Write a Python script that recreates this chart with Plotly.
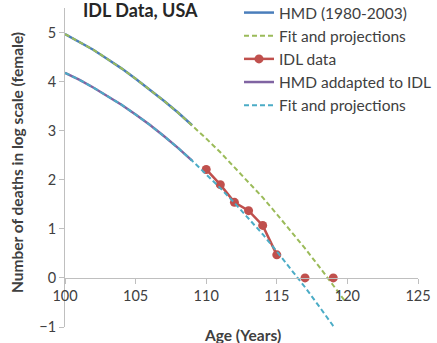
import plotly.graph_objects as go

# Ages and log-scale death counts
hmd_age = [100, 101, 102, 103, 104, 105, 106, 107, 108, 109]
hmd_val = [4.97, 4.81, 4.65, 4.46, 4.27, 4.06, 3.84, 3.61, 3.37, 3.11]

fit1_age = [100, 101, 102, 103, 104, 105, 106, 107, 108, 109, 110,
            111, 112, 113, 114, 115, 116, 117, 118, 119, 119.8]
fit1_val = [4.97, 4.81, 4.65, 4.46, 4.27, 4.06, 3.84, 3.61, 3.37, 3.11, 2.84,
            2.56, 2.26, 1.95, 1.64, 1.30, 0.96, 0.60, 0.23, -0.15, -0.46]

idl_age = [110, 111, 112, 113, 114, 115, 116, 117, 118, 119]
idl_val = [2.21, 1.90, 1.54, 1.37, 1.07, 0.47, None, 0.0, None, 0.0]

adj_age = [100, 101, 102, 103, 104, 105, 106, 107, 108, 109]
adj_val = [4.18, 4.04, 3.88, 3.71, 3.53, 3.33, 3.12, 2.89, 2.65, 2.39]

fit2_age = [100, 101, 102, 103, 104, 105, 106, 107, 108, 109, 110,
            111, 112, 113, 114, 115, 116, 117, 118, 119, 119.25]
fit2_val = [4.18, 4.04, 3.88, 3.71, 3.53, 3.33, 3.12, 2.89, 2.65, 2.39, 2.12,
            1.83, 1.53, 1.21, 0.89, 0.54, 0.18, -0.19, -0.58, -0.98, -1.03]

x_ticks = [100, 105, 110, 115, 120, 125]
y_ticks = [-1, 0, 1, 2, 3, 4, 5]

FONT = "Lato"
TXT = "#404040"
AX = "#bfbfbf"

# plot area in pixels: left 65, right 418, top 8, bottom 327
L, T, W, H = 65, 8, 353, 319


def px(x, y):
    return (x - L) / W, 1 - (y - T) / H


fig = go.Figure()
fig.add_trace(go.Scatter(x=hmd_age, y=hmd_val, mode="lines", name="HMD (1980-2003)",
                         line=dict(color="#4a7ebb", width=2.5), legendgroup="a"))
fig.add_trace(go.Scatter(x=fit1_age, y=fit1_val, mode="lines", name="Fit and projections",
                         line=dict(color="#9bbb59", width=2, dash="5px,3px"), legendgroup="b"))
fig.add_trace(go.Scatter(x=idl_age, y=idl_val, mode="lines+markers", name="IDL data",
                         line=dict(color="#c0504d", width=2.5),
                         marker=dict(color="#c0504d", size=9), legendgroup="c"))
fig.add_trace(go.Scatter(x=adj_age, y=adj_val, mode="lines", name="HMD addapted to IDL",
                         line=dict(color="#8064a2", width=2.5), legendgroup="d"))
fig.add_trace(go.Scatter(x=fit2_age, y=fit2_val, mode="lines", name="Fit and projections",
                         line=dict(color="#4bacc6", width=2, dash="5px,3px"), legendgroup="e"))

lx, ly = px(239, -4)
tx, ty = px(140, 10)
xx, xy = px(242, 335)
yx, yy = px(17, 163)

fig.update_layout(
    width=437, height=343,
    margin=dict(l=L, r=437 - L - W, t=T, b=343 - T - H, autoexpand=False),
    paper_bgcolor="white", plot_bgcolor="white",
    font=dict(family=FONT, size=14, color=TXT),
    showlegend=True,
    legend=dict(x=lx, y=ly, xanchor="left", yanchor="top",
                bgcolor="rgba(255,255,255,0)", font=dict(size=15.5, color=TXT, family=FONT),
                tracegroupgap=2, traceorder="normal"),
    xaxis=dict(range=[100, 125], tickvals=x_ticks, showgrid=False, zeroline=False,
               showline=True, linecolor=AX, linewidth=1, ticks="outside",
               tickcolor=AX, ticklen=5, anchor="free", position=1 / 6.5,
               tickfont=dict(size=14.5, color=TXT)),
    yaxis=dict(range=[-1, 5.5], tickvals=y_ticks, showgrid=False, zeroline=False,
               showline=True, linecolor=AX, linewidth=1, ticks="outside",
               tickcolor=AX, ticklen=5, tickfont=dict(size=14.5, color=TXT)),
    annotations=[
        dict(text="<b>IDL Data, USA</b>", x=tx, y=ty, xref="paper", yref="paper",
             showarrow=False, xanchor="center", yanchor="middle",
             font=dict(size=18, color="#262626", family=FONT)),
        dict(text="<b>Age (Years)</b>", x=xx, y=xy, xref="paper", yref="paper",
             showarrow=False, xanchor="center", yanchor="middle",
             font=dict(size=15.5, color=TXT, family=FONT)),
        dict(text="<b>Number of deaths in log scale (female)</b>", x=yx, y=yy,
             xref="paper", yref="paper", showarrow=False,
             xanchor="center", yanchor="middle", textangle=-90,
             font=dict(size=15.5, color=TXT, family=FONT)),
    ],
)

fig.write_html("out.html")
